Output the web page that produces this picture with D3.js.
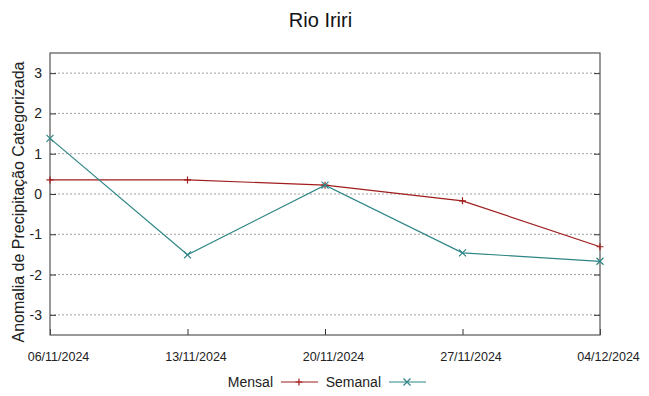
<!DOCTYPE html>
<html>
<head>
<meta charset="utf-8">
<script src="https://cdn.jsdelivr.net/npm/d3@7"></script>
<style>
  body { margin: 0; background: #fff; }
  text { font-family: "Liberation Sans", Arial, sans-serif; }
</style>
</head>
<body>
<div class="chart"></div>
<script>
const dates = ["06/11/2024", "13/11/2024", "20/11/2024", "27/11/2024", "04/12/2024"];
const mensal = [0.35, 0.35, 0.22, -0.17, -1.31];
const semanal = [1.38, -1.51, 0.22, -1.46, -1.67];
const yTicks = [-3, -2, -1, 0, 1, 2, 3];

const width = 649;
const height = 396;
const margins = {top: 53, bottom: 61, left: 50, right: 49};

const parse = d3.timeParse("%d/%m/%Y");
const fmt = d3.timeFormat("%d/%m/%Y");

const svg = d3.select(".chart").append("svg")
  .attr("width", width)
  .attr("height", height);

const xScale = d3.scaleTime()
  .domain(d3.extent(dates, d => parse(d)))
  .range([margins.left, width - margins.right]);

const yScale = d3.scaleLinear()
  .domain([-3.5, 3.5])
  .range([height - margins.bottom, margins.top]);

// grid
svg.append("g")
  .selectAll("line")
  .data(yTicks)
  .enter()
  .append("line")
    .attr("x1", margins.left)
    .attr("x2", width - margins.right)
    .attr("y1", d => yScale(d))
    .attr("y2", d => yScale(d))
    .attr("stroke", "#a0a0a0")
    .attr("stroke-width", 1)
    .attr("stroke-dasharray", "2,2");

// axes (ticks point inward, mirrored)
const yAxis = d3.axisLeft(yScale).tickValues(yTicks).tickSize(-6).tickPadding(8).tickFormat(d => String(d));
const yAxisR = d3.axisRight(yScale).tickValues(yTicks).tickSize(-6).tickFormat("");
const xAxis = d3.axisBottom(xScale).tickValues(dates.map(parse)).tickSize(-6).tickPadding(17).tickFormat(fmt);

const gy = svg.append("g")
  .attr("transform", `translate(${margins.left}, 0)`)
  .call(yAxis);
gy.selectAll("text").style("font-size", "14px").attr("fill", "#222");

const gyr = svg.append("g")
  .attr("transform", `translate(${width - margins.right}, 0)`)
  .call(yAxisR);

const gx = svg.append("g")
  .attr("transform", `translate(0, ${height - margins.bottom})`)
  .call(xAxis);
gx.selectAll("text").style("font-size", "12.5px").attr("dx", 8).attr("fill", "#222");

svg.selectAll(".domain").remove();
svg.selectAll(".tick line").attr("stroke", "#333");

// border
svg.append("rect")
  .attr("x", margins.left)
  .attr("y", margins.top)
  .attr("width", width - margins.left - margins.right)
  .attr("height", height - margins.top - margins.bottom)
  .attr("fill", "none")
  .attr("stroke", "#555")
  .attr("stroke-width", 1.2);

const line = d3.line()
  .x((d, i) => xScale(parse(dates[i])))
  .y(d => yScale(d));

const series = [
  {name: "Mensal", values: mensal, color: "#a11d1d", marker: "plus"},
  {name: "Semanal", values: semanal, color: "#2e8585", marker: "cross"}
];

function marker(g, type, x, y, color) {
  const s = 3.5;
  if (type == "plus") {
    g.append("path")
      .attr("d", `M${x - s},${y}H${x + s}M${x},${y - s}V${y + s}`)
      .attr("stroke", color).attr("stroke-width", 1.2).attr("fill", "none");
  } else {
    g.append("path")
      .attr("d", `M${x - s},${y - s}L${x + s},${y + s}M${x - s},${y + s}L${x + s},${y - s}`)
      .attr("stroke", color).attr("stroke-width", 1.2).attr("fill", "none");
  }
}

for (const s of series) {
  svg.append("path")
    .attr("fill", "none")
    .attr("stroke", s.color)
    .attr("stroke-width", 1.2)
    .attr("d", line(s.values));
  const g = svg.append("g");
  s.values.forEach((v, i) => marker(g, s.marker, xScale(parse(dates[i])), yScale(v), s.color));
}

// title
svg.append("text")
  .attr("x", width / 2 - 4)
  .attr("y", 27)
  .attr("text-anchor", "middle")
  .style("font-size", "20px")
  .attr("fill", "#111")
  .text("Rio Iriri");

// y label
svg.append("text")
  .attr("transform", `translate(24, 202) rotate(-90)`)
  .attr("text-anchor", "middle")
  .style("font-size", "16px")
  .attr("fill", "#222")
  .text("Anomalia de Precipitação Categorizada");

// legend
const legendX = [273, 381];
series.forEach((s, i) => {
  const lx = legendX[i];
  const ly = 382;
  svg.append("text")
    .attr("x", lx)
    .attr("y", ly + 5)
    .attr("text-anchor", "end")
    .style("font-size", "14px")
    .attr("fill", "#222")
    .text(s.name);
  svg.append("line")
    .attr("x1", lx + 8).attr("x2", lx + 45)
    .attr("y1", ly).attr("y2", ly)
    .attr("stroke", s.color).attr("stroke-width", 1.2);
  marker(svg, s.marker, lx + 26, ly, s.color);
});
</script>
</body>
</html>
